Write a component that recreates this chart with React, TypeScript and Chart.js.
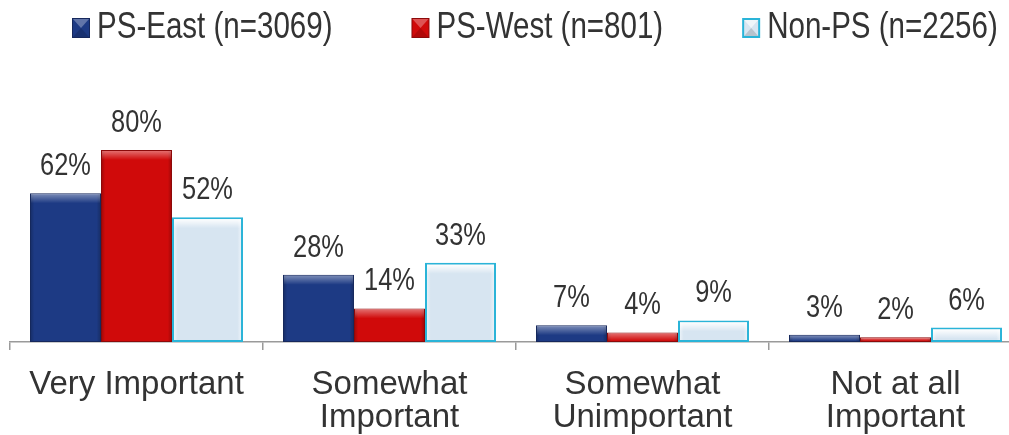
import React, { useEffect, useRef } from "react";
import { Chart, registerables } from "chart.js";

Chart.register(...registerables);

const categories: string[][] = [
  ["Very Important"],
  ["Somewhat", "Important"],
  ["Somewhat", "Unimportant"],
  ["Not at all", "Important"],
];
const seriesNames = ["PS-East (n=3069)", "PS-West (n=801)", "Non-PS (n=2256)"];
const psEast = [62, 28, 7, 3];
const psWest = [80, 14, 4, 2];
const nonPs = [52, 33, 9, 6];
const yMax = 100;

const fills = ["#1d3a84", "#d00a0a", "#d7e5f1"];
const borders = ["#16285c", "#8c0a0a", "#2ab4d8"];
const borderWidths = [1, 1, 2];

const SANS = "'Liberation Sans', Arial, sans-serif";
const TEXT = "#333333";
const SQUEEZE = 0.82;

function narrowText(ctx: CanvasRenderingContext2D, text: string, x: number, y: number) {
  ctx.save();
  ctx.translate(x, y);
  ctx.scale(SQUEEZE, 1);
  ctx.fillText(text, 0, 0);
  ctx.restore();
}

const bevelPlugin = {
  id: "bevel",
  afterDatasetsDraw(chart: any) {
    const ctx = chart.ctx;
    chart.data.datasets.forEach((_ds: any, di: number) => {
      const meta = chart.getDatasetMeta(di);
      meta.data.forEach((el: any) => {
        const left = el.x - el.width / 2;
        const top = el.y;
        const h = el.base - el.y;
        const w = el.width;
        if (h <= 0) return;
        ctx.save();
        const inset = borderWidths[di];
        const g = ctx.createLinearGradient(left, 0, left + w, 0);
        if (di === 2) {
          g.addColorStop(0, "rgba(255,255,255,0.7)");
          g.addColorStop(0.08, "rgba(255,255,255,0.0)");
          g.addColorStop(0.92, "rgba(255,255,255,0.0)");
          g.addColorStop(1, "rgba(255,255,255,0.7)");
        } else {
          g.addColorStop(0, "rgba(0,0,0,0.25)");
          g.addColorStop(0.06, "rgba(0,0,0,0.0)");
          g.addColorStop(0.94, "rgba(0,0,0,0.0)");
          g.addColorStop(1, "rgba(0,0,0,0.25)");
        }
        ctx.fillStyle = g;
        ctx.fillRect(left + inset, top + inset, w - 2 * inset, h - 2 * inset);
        const hh = Math.min(9, h - 2 * inset);
        const tg = ctx.createLinearGradient(0, top + inset, 0, top + inset + hh);
        tg.addColorStop(0, di === 2 ? "rgba(255,255,255,0.95)" : "rgba(255,255,255,0.4)");
        tg.addColorStop(1, "rgba(255,255,255,0)");
        ctx.fillStyle = tg;
        ctx.fillRect(left + inset, top + inset, w - 2 * inset, hh);
        ctx.restore();
      });
    });
  },
};

const valueLabelPlugin = {
  id: "valueLabels",
  afterDatasetsDraw(chart: any) {
    const ctx = chart.ctx;
    ctx.save();
    ctx.font = `31px ${SANS}`;
    ctx.fillStyle = TEXT;
    ctx.textAlign = "center";
    ctx.textBaseline = "alphabetic";
    chart.data.datasets.forEach((ds: any, di: number) => {
      const meta = chart.getDatasetMeta(di);
      meta.data.forEach((el: any, i: number) => {
        narrowText(ctx, `${ds.data[i]}%`, el.x, el.y - 18);
      });
    });
    ctx.restore();
  },
};

const legendPlugin = {
  id: "customLegend",
  afterDraw(chart: any) {
    const ctx = chart.ctx;
    ctx.save();
    ctx.font = `36px ${SANS}`;
    ctx.textBaseline = "alphabetic";
    ctx.textAlign = "left";
    let x = 72;
    const baseY = 38;
    chart.data.datasets.forEach((ds: any, di: number) => {
      const bx = x;
      const by = 18;
      const bw = 18;
      const bh = 20;
      ctx.fillStyle = borders[di];
      ctx.fillRect(bx, by, bw, bh);
      const inner = di === 2 ? 2 : 1;
      ctx.fillStyle = fills[di];
      ctx.fillRect(bx + inner, by + inner, bw - 2 * inner, bh - 2 * inner);
      ctx.fillStyle = di === 2 ? "rgba(255,255,255,0.6)" : "rgba(255,255,255,0.3)";
      ctx.beginPath();
      ctx.moveTo(bx + inner, by + inner);
      ctx.lineTo(bx + bw - inner, by + inner);
      ctx.lineTo(bx + bw / 2, by + bh / 2);
      ctx.closePath();
      ctx.fill();
      ctx.fillStyle = "rgba(0,0,0,0.15)";
      ctx.beginPath();
      ctx.moveTo(bx + inner, by + bh - inner);
      ctx.lineTo(bx + bw - inner, by + bh - inner);
      ctx.lineTo(bx + bw / 2, by + bh / 2);
      ctx.closePath();
      ctx.fill();
      ctx.fillStyle = TEXT;
      const tx = bx + bw + 7;
      narrowText(ctx, ds.label, tx, baseY);
      x = tx + ctx.measureText(ds.label).width * SQUEEZE + 79;
    });
    ctx.restore();
  },
};

export default function App() {
  const ref = useRef<HTMLCanvasElement | null>(null);

  useEffect(() => {
    if (!ref.current) return;
    const seriesValues = [psEast, psWest, nonPs];
    const chart = new Chart(ref.current, {
      type: "bar",
      data: {
        labels: categories,
        datasets: seriesValues.map((vals, i) => ({
          label: seriesNames[i],
          data: vals,
          backgroundColor: fills[i],
          borderColor: borders[i],
          borderWidth: borderWidths[i],
          borderSkipped: false,
          categoryPercentage: 0.842,
          barPercentage: 1.0,
        })),
      },
      options: {
        animation: false,
        responsive: false,
        devicePixelRatio: 1,
        layout: { padding: { top: 102, left: 10, right: 10, bottom: 0 } },
        plugins: {
          legend: { display: false },
          title: { display: false },
          tooltip: { enabled: false },
        },
        scales: {
          y: {
            display: false,
            min: 0,
            max: yMax,
          },
          x: {
            offset: true,
            border: { display: true, color: "#9a9a9a", width: 1.5 },
            grid: {
              display: true,
              drawOnChartArea: false,
              drawTicks: true,
              tickLength: 8,
              color: "#9a9a9a",
              lineWidth: 1.5,
              offset: true,
            },
            ticks: {
              color: TEXT,
              font: { family: SANS, size: 33, lineHeight: 1.0 },
              padding: 18,
              maxRotation: 0,
              autoSkip: false,
            },
            afterFit: (scale: any) => {
              scale.height = 93;
            },
          },
        },
      },
      plugins: [bevelPlugin, valueLabelPlugin, legendPlugin],
    });
    return () => chart.destroy();
  }, []);

  return (
    <div
      style={{
        position: "fixed",
        left: 0,
        top: 0,
        width: 1009,
        height: 435,
        overflow: "hidden",
        background: "#ffffff",
      }}
    >
      <canvas ref={ref} width={1032} height={435} style={{ display: "block", width: 1032, height: 435 }} />
    </div>
  );
}
